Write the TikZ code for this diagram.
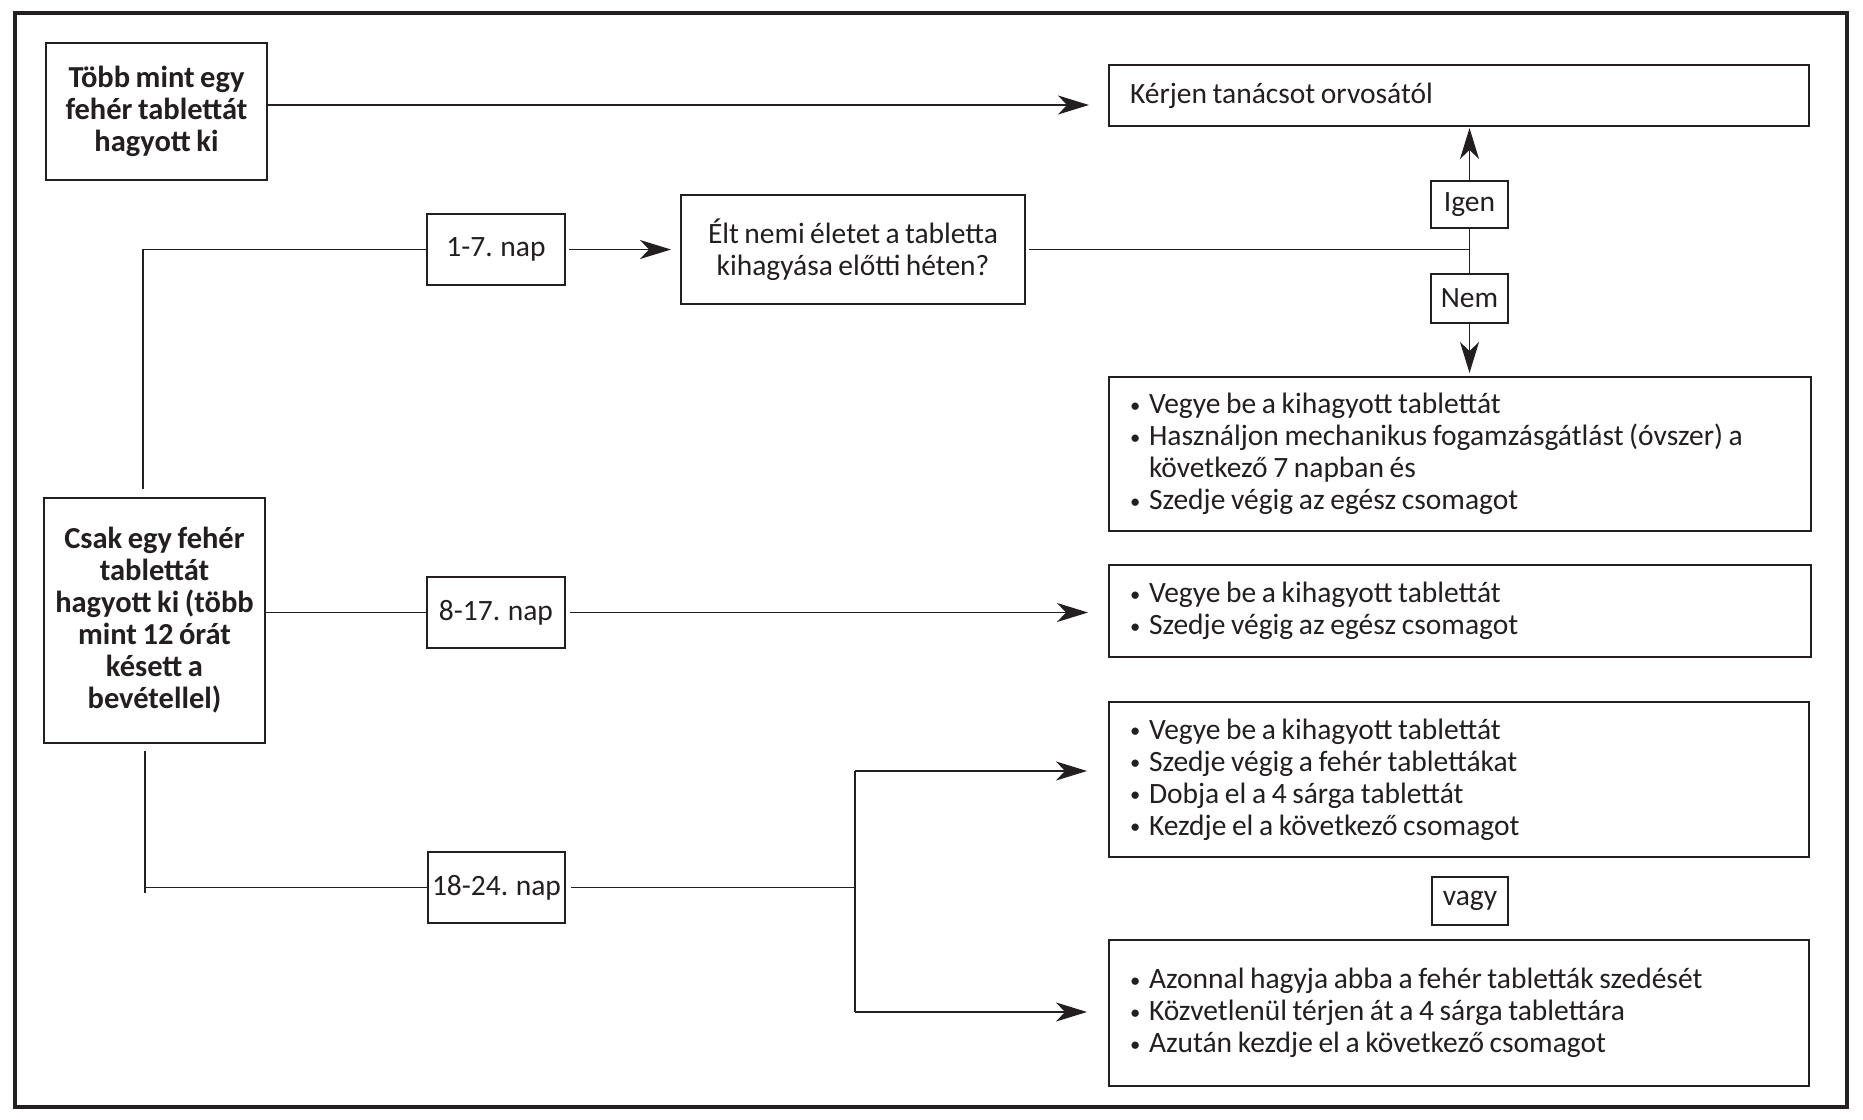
\documentclass[tikz,border=0pt]{standalone}
\usepackage{fontspec}
\setmainfont{Carlito}[WordSpace=0.8]
\usetikzlibrary{arrows.meta}
\definecolor{ink}{HTML}{231F20}
\newcommand\mybul{\makebox[19pt][l]{\raisebox{1.5pt}{\scalebox{0.7}{\textbullet}}}}
\newcommand\myind{\hspace*{19pt}}
\newcommand\tightsp{\spaceskip=0.19em plus 0.05em minus 0.03em\relax}
\begin{document}
\begin{tikzpicture}[x=1pt,y=-1pt,
  box/.style={draw=ink, line width=1.8pt, anchor=north west, inner sep=0pt, outer sep=0pt,
    text=ink, font=\fontsize{29.5}{32}\selectfont},
  boldbox/.style={box, align=center, font=\bfseries\fontsize{30.5}{32}\selectfont},
  listbox/.style={box, align=left, inner xsep=21pt, text width=660pt, minimum width=702pt},
  smallbox/.style={box, align=center},
  conn/.style={draw=ink, line width=1.7pt},
  arr/.style={-{Stealth[length=31pt,width=19pt,inset=9pt]}}
]
\useasboundingbox (0,0) rectangle (1863,1119);
\fill[white] (0,0) rectangle (1863,1119);
\draw[ink, line width=4.5pt] (15,13) rectangle (1847,1107);

% nodes
\node[boldbox, minimum width=221pt, minimum height=137pt] (t1) at (46,43)
  {Több mint egy\\fehér tablettát\\hagyott ki};
\node[box, minimum width=700pt, minimum height=61pt, text width=658pt, align=left, inner xsep=21pt] (kerjen) at (1109,65)
  {\tightsp Kérjen tanácsot orvosától};
\node[smallbox, minimum width=138pt, minimum height=71pt] (d17) at (427,214) {1-7. nap};
\node[smallbox, minimum width=344pt, minimum height=109pt] (elt) at (681,195)
  {Élt nemi életet a tabletta\\kihagyása előtti héten?};
\node[smallbox, minimum width=77pt, minimum height=47pt] (igen) at (1431,181) {Igen};
\node[smallbox, minimum width=77pt, minimum height=49pt] (nem) at (1431,274) {Nem};
\node[listbox, minimum height=154pt] (b1) at (1109,377)
  {\tightsp\mybul Vegye be a kihagyott tablettát\\
   \mybul Használjon mechanikus fogamzásgátlást (óvszer) a\\
   \myind következő 7 napban és\\
   \mybul Szedje végig az egész csomagot};
\node[boldbox, minimum width=221pt, minimum height=245pt] (csak) at (44,498)
  {Csak egy fehér\\tablettát\\hagyott ki (több\\mint 12 órát\\késett a\\bevétellel)};
\node[smallbox, minimum width=138pt, minimum height=71pt] (d817) at (427,577) {8-17. nap};
\node[listbox, minimum height=92pt] (b2) at (1109,565)
  {\tightsp\mybul Vegye be a kihagyott tablettát\\
   \mybul Szedje végig az egész csomagot};
\node[listbox, minimum height=155pt, minimum width=700pt, text width=658pt] (b3) at (1109,702)
  {\tightsp\mybul Vegye be a kihagyott tablettát\\
   \mybul Szedje végig a fehér tablettákat\\
   \mybul Dobja el a 4 sárga tablettát\\
   \mybul Kezdje el a következő csomagot};
\node[smallbox, minimum width=137pt, minimum height=71pt] (d1824) at (428,852) {18-24. nap};
\node[smallbox, minimum width=76pt, minimum height=48pt] (vagy) at (1432,877) {vagy};
\node[listbox, minimum height=146pt, minimum width=700pt, text width=658pt] (b4) at (1109,940)
  {\tightsp\mybul Azonnal hagyja abba a fehér tabletták szedését\\
   \mybul Közvetlenül térjen át a 4 sárga tablettára\\
   \mybul Azután kezdje el a következő csomagot};

% connectors
\coordinate (k1) at (1089,105);
\draw[conn,arr] (t1.east |- k1) -- (k1);

\coordinate (L1) at (143,489);
\draw[conn] (L1) |- (d17.west);
\coordinate (e1) at (671,249.5);
\draw[conn,arr] ([xshift=4pt]d17.east) -- (e1);
\coordinate (J) at (1469.5,249.5);
\draw[conn] ([xshift=4pt]elt.east) -- (J);
\draw[conn] (J) -- (igen.south);
\draw[conn] (J) -- (nem.north);
\coordinate (up) at (1469.5,128);
\draw[conn,arr] (igen.north) -- (up);
\coordinate (dn) at (1469.5,373);
\draw[conn,arr] (nem.south) -- (dn);

\draw[conn] (csak.east |- d817.west) -- (d817.west);
\coordinate (a2) at (1088,612.5);
\draw[conn,arr] ([xshift=5pt]d817.east) -- (a2);

\coordinate (L2) at (145,751);
\coordinate (L2b) at (145,893);
\draw[conn] (L2) -- (L2b);
\draw[conn] (L2 |- d1824.west) -- (d1824.west);
\coordinate (S) at (855,887.5);
\draw[conn] ([xshift=6pt]d1824.east) -- (S);
\coordinate (S1) at (855,771);
\coordinate (S2) at (855,1012);
\draw[conn] (S1) -- (S2);
\coordinate (a3) at (1087,771);
\coordinate (a4) at (1087,1012);
\draw[conn,arr] (S1) -- (a3);
\draw[conn,arr] (S2) -- (a4);
\end{tikzpicture}
\end{document}
